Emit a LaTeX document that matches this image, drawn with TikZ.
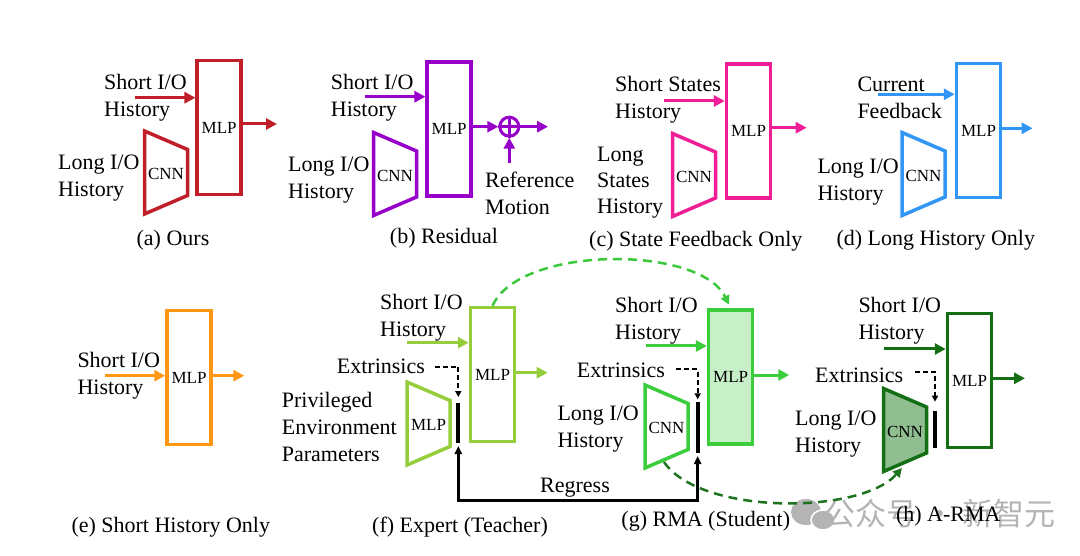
\documentclass[tikz,border=0pt]{standalone}
\usepackage{fontspec}
\setmainfont{Liberation Serif}
\newfontfamily\cjk{Noto Sans CJK SC}
\usetikzlibrary{arrows.meta}

\definecolor{cOurs}{RGB}{192,30,40}
\definecolor{cRes}{RGB}{150,0,200}
\definecolor{cState}{RGB}{240,30,150}
\definecolor{cLong}{RGB}{50,150,245}
\definecolor{cShort}{RGB}{255,150,20}
\definecolor{cExp}{RGB}{150,205,60}
\definecolor{cRma}{RGB}{60,205,60}
\definecolor{cRmaFill}{RGB}{200,240,200}
\definecolor{cArma}{RGB}{20,110,20}
\definecolor{cArmaFill}{RGB}{145,190,145}
\definecolor{cHopA}{RGB}{60,200,60}
\definecolor{cHopB}{RGB}{30,115,30}
\definecolor{cMark}{RGB}{180,180,180}

\newcommand{\lblfont}{\fontsize{22}{27}\selectfont}
\newcommand{\mlpfont}{\fontsize{17}{20}\selectfont}

% encoder trapezoid: name, left x, centre y, draw options, text
\newcommand{\enc}[5]{%
  \draw[line width=3.5pt,#4] (#2,#3-41.5) -- (#2+43,#3-23) -- (#2+43,#3+23) -- (#2,#3+41.5) -- cycle;
  \node[font=\mlpfont,inner sep=0pt] (#1) at (#2+21.5,#3+1.5) {#5};}

\tikzset{
  net/.style={draw, line width=3.5pt, minimum width=44pt, minimum height=134pt, inner sep=0pt, font=\mlpfont},
  sig/.style={line width=3pt, -{Triangle[length=11pt,width=11pt]}},
  txt/.style={anchor=west, align=left, inner sep=0pt, font=\lblfont},
  capt/.style={inner sep=0pt, font=\lblfont},
  ext/.style={line width=2pt, dash pattern=on 5pt off 3pt, -{Triangle[length=6pt,width=6pt]}},
  bar/.style={line width=4pt},
  regarr/.style={line width=2.5pt, {Triangle[length=8pt,width=7pt]}-{Triangle[length=8pt,width=7pt]}},
  hop/.style={line width=2.5pt, dash pattern=on 9pt off 6pt, -{Triangle[length=9pt,width=9pt]}},
}

\begin{document}
\begin{tikzpicture}[x=1pt,y=-1pt]
  \useasboundingbox (0,0) rectangle (1080,556);

  % watermark
  \fill[cMark] (806,512) ellipse (15 and 13);
  \draw[white, line width=1.5pt, fill=cMark] (823,520) ellipse (12 and 10);
  \node[font=\cjk\fontsize{31}{31}\selectfont, text=cMark, inner sep=0pt] (mark) at (940,514) {公众号 · 新智元};

  % (a) ours
  \node[net, draw=cOurs] (mlpA) at (219.2,127.5) {MLP};
  \enc{cnnA}{144.5}{172.5}{draw=cOurs}{CNN}
  \coordinate (inA)  at (135,97.7);
  \coordinate (outA) at (277,124);
  \draw[sig, cOurs] (inA) -- (inA -| mlpA.west);
  \draw[sig, cOurs] (mlpA.east |- outA) -- (outA);
  \node[txt] (shortA) at (104,97.5) {Short I/O\\History};
  \node[txt] (longA)  at (58,178.5) {Long I/O\\History};
  \node[capt] (capA)  at (173,240) {(a) Ours};

  % (b) residual
  \node[net, draw=cRes] (mlpB) at (449.2,129.2) {MLP};
  \enc{cnnB}{373.5}{174}{draw=cRes}{CNN}
  \node[circle, draw=cRes, line width=3pt, minimum size=19pt, inner sep=0pt] (sumB) at (509.3,126.7) {};
  \draw[cRes, line width=2.5pt] (sumB.north) -- (sumB.south) (sumB.west) -- (sumB.east);
  \coordinate (inB)  at (365,96.7);
  \coordinate (outB) at (548,126.7);
  \coordinate (refB) at (509.3,163);
  \draw[sig, cRes] (inB) -- (inB -| mlpB.west);
  \draw[sig, cRes] (mlpB.east |- sumB) -- (sumB.west);
  \draw[sig, cRes] (sumB.east) -- (outB);
  \draw[sig, cRes] (refB) -- (sumB.south);
  \node[txt] (shortB) at (330.7,97.5) {Short I/O\\History};
  \node[txt] (longB)  at (288,180.5) {Long I/O\\History};
  \node[txt] (refTxtB) at (485,193.5) {Reference\\Motion};
  \node[capt] (capB)  at (444,238) {(b) Residual};

  % (c) state feedback only
  \node[net, draw=cState] (mlpC) at (748.5,131.2) {MLP};
  \enc{cnnC}{672.5}{175}{draw=cState}{CNN}
  \coordinate (inC)  at (664,101);
  \coordinate (outC) at (806.7,127.7);
  \draw[sig, cState] (inC) -- (inC -| mlpC.west);
  \draw[sig, cState] (mlpC.east |- outC) -- (outC);
  \node[txt] (shortC) at (615,99.5) {Short States\\History};
  \node[txt, font=\fontsize{22}{26}\selectfont] (longC) at (597,183) {Long\\States\\History};
  \node[capt] (capC)  at (695.8,241.7) {(c) State Feedback Only};

  % (d) long history only
  \node[net, draw=cLong] (mlpD) at (978.5,130.7) {MLP};
  \enc{cnnD}{902}{174}{draw=cLong}{CNN}
  \coordinate (inD)  at (878,94.3);
  \coordinate (outD) at (1032.7,128.3);
  \draw[sig, cLong] (inD) -- (inD -| mlpD.west);
  \draw[sig, cLong] (mlpD.east |- outD) -- (outD);
  \node[txt] (curD)  at (857.3,97.8) {Current\\Feedback};
  \node[txt] (longD) at (817.3,181.7) {Long I/O\\History};
  \node[capt] (capD) at (935.8,240) {(d) Long History Only};

  % (e) short history only
  \node[net, draw=cShort] (mlpE) at (189,377.5) {MLP};
  \coordinate (inE)  at (105,375.7);
  \coordinate (outE) at (244.3,375.7);
  \draw[sig, cShort] (inE) -- (inE -| mlpE.west);
  \draw[sig, cShort] (mlpE.east |- outE) -- (outE);
  \node[txt] (shortE) at (77.3,376.2) {Short I/O\\History};
  \node[capt] (capE)  at (170.8,527.3) {(e) Short History Only};

  % (f) expert
  \node[net, draw=cExp] (mlpF) at (492.5,374.5) {MLP};
  \enc{privF}{407}{423.5}{draw=cExp}{MLP}
  \coordinate (inF)   at (406.7,342.7);
  \coordinate (outF)  at (547.7,372.7);
  \coordinate (extFs) at (435,366.7);
  \coordinate (extFe) at (458.3,397);
  \coordinate (barFt) at (458.3,403.3);
  \coordinate (barFb) at (458.3,443.3);
  \draw[sig, cExp] (inF) -- (inF -| mlpF.west);
  \draw[sig, cExp] (mlpF.east |- outF) -- (outF);
  \draw[ext] (extFs) -| (extFe);
  \draw[bar] (barFt) -- (barFb);
  \node[txt] (shortF) at (380,317.5) {Short I/O\\History};
  \node[txt] (extF)   at (336.7,366.7) {Extrinsics};
  \node[txt] (privTxtF) at (281.7,427) {Privileged\\Environment\\Parameters};
  \node[capt] (capF)  at (460,526.7) {(f) Expert (Teacher)};

  % (g) rma
  \node[net, draw=cRma, fill=cRmaFill] (mlpG) at (730.7,377) {MLP};
  \enc{cnnG}{645}{426.5}{draw=cRma}{CNN}
  \coordinate (inG)   at (646,346);
  \coordinate (outG)  at (789.3,375);
  \coordinate (extGs) at (676,369.3);
  \coordinate (extGe) at (697.7,399.3);
  \coordinate (barGt) at (697.7,401.7);
  \coordinate (barGb) at (697.7,453.3);
  \draw[sig, cRma] (inG) -- (inG -| mlpG.west);
  \draw[sig, cRma] (mlpG.east |- outG) -- (outG);
  \draw[ext] (extGs) -| (extGe);
  \draw[bar] (barGt) -- (barGb);
  \node[txt] (shortG) at (615,320.5) {Short I/O\\History};
  \node[txt] (extG)   at (576.7,370) {Extrinsics};
  \node[txt] (longG)  at (557.3,429) {Long I/O\\History};
  \node[capt] (capG)  at (705.8,521.7) {(g) RMA (Student)};

  % regress
  \coordinate (regF) at (458.3,446);
  \coordinate (regG) at (697.7,456);
  \coordinate (reg)  at (578,500.7);
  \draw[regarr] (regF) |- (reg) -| (regG);
  \node[capt] (regTxt) at (575,488) {Regress};

  % (h) a-rma
  \node[net, draw=cArma] (mlpH) at (969.5,380.7) {MLP};
  \enc{cnnH}{883.5}{430}{draw=cArma, fill=cArmaFill}{CNN}
  \coordinate (inH)   at (884,349);
  \coordinate (outH)  at (1025,378.3);
  \coordinate (extHs) at (915,371.7);
  \coordinate (extHe) at (935,401.7);
  \coordinate (barHt) at (935,411);
  \coordinate (barHb) at (935,448.3);
  \draw[sig, cArma] (inH) -- (inH -| mlpH.west);
  \draw[sig, cArma] (mlpH.east |- outH) -- (outH);
  \draw[ext] (extHs) -| (extHe);
  \draw[bar] (barHt) -- (barHb);
  \node[txt] (shortH) at (858.3,320.5) {Short I/O\\History};
  \node[txt] (extH)   at (815,375) {Extrinsics};
  \node[txt] (longH)  at (795,434.5) {Long I/O\\History};
  \node[capt] (capH)  at (948.3,516.7) {(h) A-RMA};

  % weight transfer
  \coordinate (hopBs) at (664,462);
  \coordinate (hopBe) at (902,468);
  \draw[hop, cHopA, shorten >=4pt] (mlpF.north) .. controls (520,245) and (700,245) .. (mlpG.north);
  \draw[hop, cHopB] (hopBs) .. controls (700,515) and (860,515) .. (hopBe);

\end{tikzpicture}
\end{document}
